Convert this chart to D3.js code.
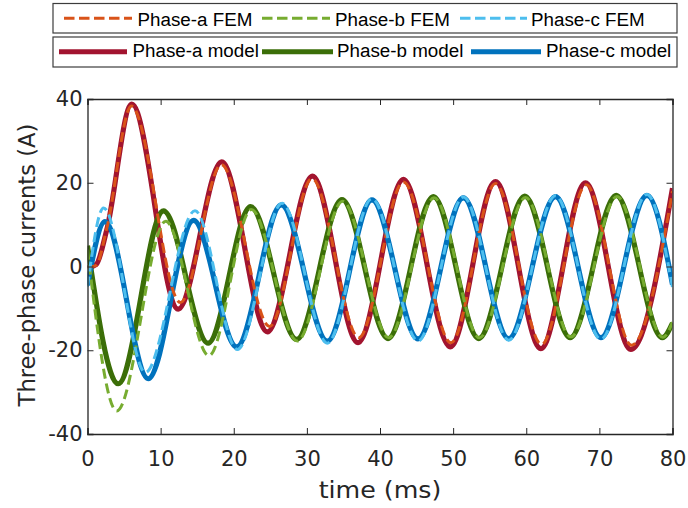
<!DOCTYPE html>
<html><head><meta charset="utf-8">
<script src="https://cdn.jsdelivr.net/npm/d3@7"></script>
<style>
html,body{margin:0;padding:0;background:#fff;}
svg{display:block;font-family:"DejaVu Sans",Verdana,sans-serif;}
</style></head>
<body><svg id="chart" width="688" height="508"></svg>
<script>
// ---- data (time in ms, current in A) ----
const seriesNames = ["Phase-a FEM","Phase-b FEM","Phase-c FEM","Phase-a model","Phase-b model","Phase-c model"];
const xTicks = [0,10,20,30,40,50,60,70,80];
const yTicks = [-40,-20,0,20,40];

const phaseA_model = [[0,-0.3],[1.2,0.5],[2.6,8.5],[6.05,38.8],[12.4,-10.2],[18.35,25.0],[24.6,-15.6],[30.75,21.6],[37.0,-18.2],[43.2,20.8],[49.6,-19.2],[55.8,20.3],[62.0,-19.6],[68.1,20.0],[74.3,-19.8],[80,18.7]];
const phaseB_model = [[0,5.0],[4.2,-28.0],[10.4,13.3],[16.5,-18.3],[22.3,14.3],[28.6,-17.4],[34.8,16.0],[41.1,-17.2],[47.3,16.7],[53.5,-17.2],[59.8,16.8],[66.0,-17.0],[72.3,17.0],[78.6,-17.0],[80,-13.5]];
const phaseC_model = [[0,-4.5],[2.4,10.7],[8.3,-26.8],[14.5,11.0],[20.4,-19.2],[26.5,14.7],[32.8,-17.8],[38.9,15.9],[45.2,-17.3],[51.4,16.4],[57.6,-17.2],[64.0,16.7],[70.2,-17.0],[76.5,17.0],[80,-4.3]];

const phaseA_fem = [[0,-0.3],[1.2,0.3],[2.6,8.8],[6.0,38.3],[12.7,-8.6],[18.3,24.3],[24.9,-14.3],[30.7,21.0],[37.1,-17.0],[43.2,20.2],[49.7,-18.2],[55.8,19.8],[62.1,-18.6],[68.2,19.5],[74.4,-18.8],[80,18.0]];
const phaseB_fem = [[0,4.0],[4.0,-34.5],[10.7,10.8],[16.6,-21.3],[22.4,13.6],[28.7,-17.8],[34.9,15.6],[41.2,-17.0],[47.4,16.4],[53.6,-17.0],[59.9,16.5],[66.1,-16.8],[72.4,16.7],[78.7,-16.9],[80,-13.3]];
const phaseC_fem = [[0,-4.8],[2.2,14.0],[7.9,-25.3],[14.7,13.3],[20.5,-19.8],[26.6,15.1],[32.8,-18.3],[38.9,16.2],[45.2,-17.8],[51.4,16.6],[57.6,-17.6],[64.0,16.9],[70.2,-17.4],[76.5,17.2],[80,-5.0]];

// ---- styles ----
const colModel = ["#A2142F","#3B6E08","#0072BD"];
const colFem = ["#D95319","#77AC30","#4DBEEE"];
const axisCol = "#262626";

const svg = d3.select("#chart");
const L=87.5, R=672.5, T=99, B=434;
const x = d3.scaleLinear().domain([0,80]).range([L,R]);
const y = d3.scaleLinear().domain([-40,40]).range([B,T]);

svg.append("defs").append("clipPath").attr("id","clip")
  .append("rect").attr("x",L).attr("y",T).attr("width",R-L).attr("height",B-T);

const line = d3.line().x(d=>x(d[0])).y(d=>y(d[1])).curve(d3.curveMonotoneX);
const g = svg.append("g").attr("clip-path","url(#clip)");
[phaseA_model,phaseB_model,phaseC_model].forEach((s,i)=>{
  g.append("path").datum(s).attr("d",line).attr("fill","none")
   .attr("stroke",colModel[i]).attr("stroke-width",5.2).attr("stroke-linejoin","round");
});
[phaseA_fem,phaseB_fem,phaseC_fem].forEach((s,i)=>{
  g.append("path").datum(s).attr("d",line).attr("fill","none")
   .attr("stroke",colFem[i]).attr("stroke-width",3).attr("stroke-dasharray","10,5");
});

// axes
const fmt = d => String(d);
const axBottom = svg.append("g").attr("transform",`translate(0,${B})`)
  .call(d3.axisBottom(x).tickValues(xTicks).tickSize(-6).tickPadding(17.5).tickFormat(fmt));
const axLeft = svg.append("g").attr("transform",`translate(${L},0)`)
  .call(d3.axisLeft(y).tickValues(yTicks).tickSize(-6).tickPadding(5).tickFormat(fmt));
const axTop = svg.append("g").attr("transform",`translate(0,${T})`)
  .call(d3.axisTop(x).tickValues(xTicks).tickSize(-6).tickFormat(""));
const axRight = svg.append("g").attr("transform",`translate(${R},0)`)
  .call(d3.axisRight(y).tickValues(yTicks).tickSize(-6).tickFormat(""));
[axBottom,axLeft,axTop,axRight].forEach(a=>{
  a.attr("font-family",null).attr("font-size",21);
  a.select(".domain").attr("stroke",axisCol).attr("stroke-width",1.3);
  a.selectAll(".tick line").attr("stroke",axisCol).attr("stroke-width",1);
  a.selectAll("text").attr("fill",axisCol);
});

svg.append("text").attr("transform",`translate(${(L+R)/2},498) scale(1.1,1)`).attr("text-anchor","middle")
  .attr("font-size",23).attr("fill",axisCol).text("time (ms)");
svg.append("text").attr("transform",`translate(35,265) rotate(-90)`).attr("text-anchor","middle")
  .attr("font-size",22.7).attr("fill",axisCol).text("Three-phase currents (A)");

// legends
const lg = svg.append("g").attr("font-family","'Liberation Sans',Arial,sans-serif");
lg.append("rect").attr("x",53).attr("y",3.5).attr("width",624).attr("height",29.5)
  .attr("fill","#fff").attr("stroke","#3c3c3c").attr("stroke-width",1.2);
lg.append("rect").attr("x",53).attr("y",37).attr("width",624).attr("height",30)
  .attr("fill","#fff").attr("stroke","#3c3c3c").attr("stroke-width",1.2);
const femLine = [[64,132],[262,330],[460,527]], femText=[137.5,335,531];
const modLine = [[59,127],[262,333],[471,541]], modText=[132.5,337,546];
const lfs = 18.8;
seriesNames.slice(0,3).forEach((n,i)=>{
  lg.append("line").attr("x1",femLine[i][0]).attr("x2",femLine[i][1]).attr("y1",18.3).attr("y2",18.3)
    .attr("stroke",colFem[i]).attr("stroke-width",3).attr("stroke-dasharray","10.5,4.5");
  lg.append("text").attr("x",femText[i]).attr("y",26).attr("font-size",lfs).attr("fill","#000").text(n);
});
seriesNames.slice(3).forEach((n,i)=>{
  lg.append("line").attr("x1",modLine[i][0]).attr("x2",modLine[i][1]).attr("y1",51.7).attr("y2",51.7)
    .attr("stroke",colModel[i]).attr("stroke-width",5);
  lg.append("text").attr("x",modText[i]).attr("y",57).attr("font-size",lfs).attr("fill","#000").text(n);
});
</script></body></html>
